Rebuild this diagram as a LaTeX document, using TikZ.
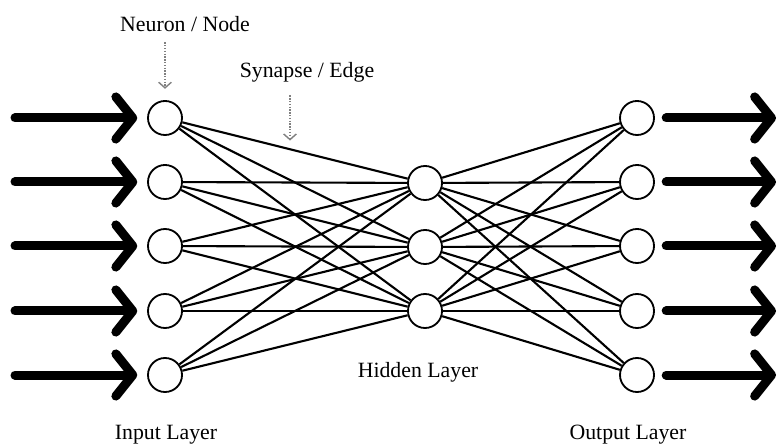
\documentclass[tikz,border=0pt]{standalone}
\usepackage{fontspec}
\setmainfont{Liberation Serif}
\usetikzlibrary{arrows.meta}

\tikzset{
	neuron/.style={circle, draw, line width=1.3pt, minimum size=0.85cm, inner sep=0pt},
	synapse/.style={line width=1.5pt},
	bigarrow/.style={line width=6.4pt, line cap=round, -{Straight Barb[length=12pt, width=30pt, round]}},
	pointer/.style={gray, densely dotted, line width=1pt, -{Straight Barb[length=4pt, width=9pt]}},
	caption/.style={font=\fontsize{15.5}{18}\selectfont}
}

\begin{document}
\begin{tikzpicture}[x=0.025cm, y=-0.025cm]
		\useasboundingbox (0, 0) rectangle (780, 444);
		
		% input layer
		\node[neuron] (i1) at (165, 118) {};
		\node[neuron] (i2) at (165, 182) {};
		\node[neuron] (i3) at (165, 246) {};
		\node[neuron] (i4) at (165, 311) {};
		\node[neuron] (i5) at (165, 375) {};
		
		% hidden layer
		\node[neuron] (h1) at (425, 183) {};
		\node[neuron] (h2) at (425, 247) {};
		\node[neuron] (h3) at (425, 311) {};
		
		% output layer
		\node[neuron] (o1) at (637, 118) {};
		\node[neuron] (o2) at (637, 182) {};
		\node[neuron] (o3) at (637, 246) {};
		\node[neuron] (o4) at (637, 311) {};
		\node[neuron] (o5) at (637, 375) {};
		
		% free ends of the big arrows
		\coordinate (s1) at (15, 118);
		\coordinate (s2) at (15, 182);
		\coordinate (s3) at (15, 246);
		\coordinate (s4) at (15, 311);
		\coordinate (s5) at (15, 375);
		
		\coordinate (e1) at (776, 118);
		\coordinate (e2) at (776, 182);
		\coordinate (e3) at (776, 246);
		\coordinate (e4) at (776, 311);
		\coordinate (e5) at (776, 375);
		
		% synapses
		\draw[synapse] (i1) -- (h1);
		\draw[synapse] (i1) -- (h2);
		\draw[synapse] (i1) -- (h3);
		\draw[synapse] (i2) -- (h1);
		\draw[synapse] (i2) -- (h2);
		\draw[synapse] (i2) -- (h3);
		\draw[synapse] (i3) -- (h1);
		\draw[synapse] (i3) -- (h2);
		\draw[synapse] (i3) -- (h3);
		\draw[synapse] (i4) -- (h1);
		\draw[synapse] (i4) -- (h2);
		\draw[synapse] (i4) -- (h3);
		\draw[synapse] (i5) -- (h1);
		\draw[synapse] (i5) -- (h2);
		\draw[synapse] (i5) -- (h3);
		
		\draw[synapse] (h1) -- (o1);
		\draw[synapse] (h1) -- (o2);
		\draw[synapse] (h1) -- (o3);
		\draw[synapse] (h1) -- (o4);
		\draw[synapse] (h1) -- (o5);
		\draw[synapse] (h2) -- (o1);
		\draw[synapse] (h2) -- (o2);
		\draw[synapse] (h2) -- (o3);
		\draw[synapse] (h2) -- (o4);
		\draw[synapse] (h2) -- (o5);
		\draw[synapse] (h3) -- (o1);
		\draw[synapse] (h3) -- (o2);
		\draw[synapse] (h3) -- (o3);
		\draw[synapse] (h3) -- (o4);
		\draw[synapse] (h3) -- (o5);
		
		% inputs and outputs
		\draw[bigarrow, shorten >=7pt] (s1) -- (i1);
		\draw[bigarrow, shorten >=7pt] (s2) -- (i2);
		\draw[bigarrow, shorten >=7pt] (s3) -- (i3);
		\draw[bigarrow, shorten >=7pt] (s4) -- (i4);
		\draw[bigarrow, shorten >=7pt] (s5) -- (i5);
		
		\draw[bigarrow, shorten <=8pt] (o1) -- (e1);
		\draw[bigarrow, shorten <=8pt] (o2) -- (e2);
		\draw[bigarrow, shorten <=8pt] (o3) -- (e3);
		\draw[bigarrow, shorten <=8pt] (o4) -- (e4);
		\draw[bigarrow, shorten <=8pt] (o5) -- (e5);
		
		% labels
		\node[caption] (neuronlbl) at (185, 24) {Neuron / Node};
		\node[caption] (synapselbl) at (307, 72) {Synapse / Edge};
		\node[caption] (inputlbl) at (166, 435) {Input Layer};
		\node[caption] (hiddenlbl) at (418, 372) {Hidden Layer};
		\node[caption] (outputlbl) at (628, 435) {Output Layer};
		
		\coordinate (synpt) at (290, 149);
		\draw[pointer, shorten <=4pt, shorten >=8pt] (neuronlbl.south -| i1) -- (i1);
		\draw[pointer, shorten <=6pt, shorten >=6pt] (synapselbl.south -| synpt) -- (synpt);
	\end{tikzpicture}
\end{document}
